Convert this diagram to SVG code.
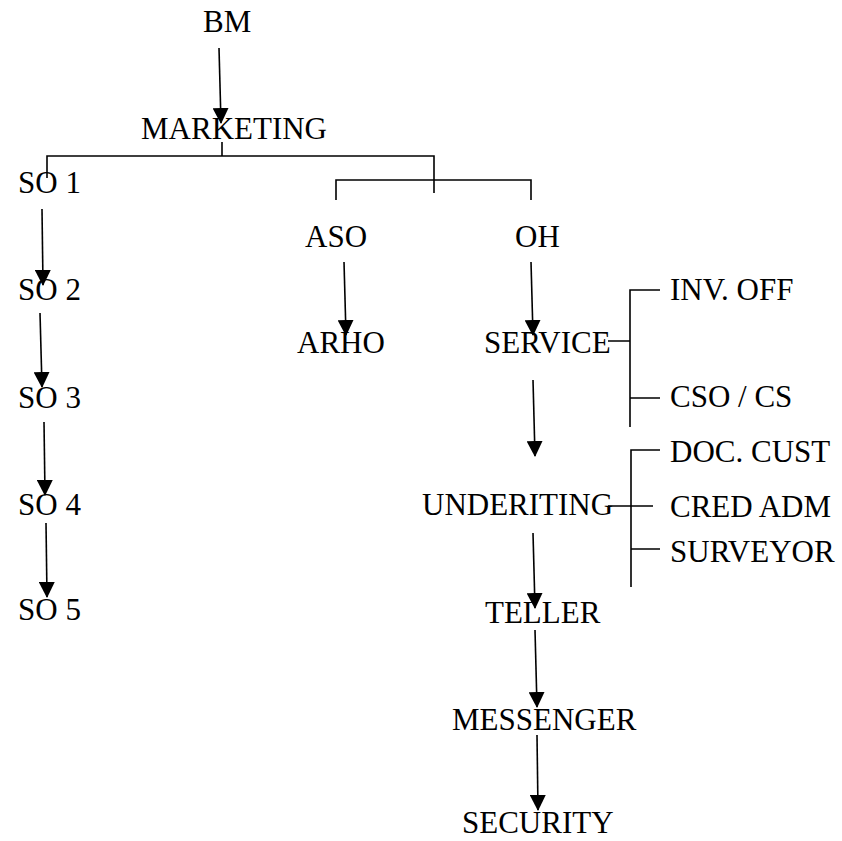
<svg xmlns="http://www.w3.org/2000/svg" width="842" height="841" viewBox="0 0 842 841">
<defs>
<style>
text{font-family:"Liberation Serif","Times New Roman",serif;font-size:31px;fill:#000}
.c line,.c path{stroke:#000;stroke-width:1.6;fill:none}
</style>
<marker id="ah" markerUnits="userSpaceOnUse" markerWidth="16" markerHeight="16" viewBox="0 0 16 16" refX="15" refY="8" orient="auto">
<path d="M0,0 L16,8 L0,16 Z" fill="#000"/>
</marker>
</defs>
<rect width="842" height="841" fill="#fff"/>
<g class="c" id="connectors">
<line x1="219" y1="48" x2="221" y2="123" marker-end="url(#ah)"/>
<path d="M222,142 V156 M47,178 V156 H434 V193"/>
<path d="M336,200 V180 H531 V200"/>
<line x1="42" y1="209" x2="43" y2="285" marker-end="url(#ah)"/>
<line x1="40" y1="313" x2="42" y2="387" marker-end="url(#ah)"/>
<line x1="44" y1="422" x2="45" y2="495" marker-end="url(#ah)"/>
<line x1="46" y1="523" x2="47" y2="597" marker-end="url(#ah)"/>
<line x1="344" y1="262" x2="346" y2="335" marker-end="url(#ah)"/>
<line x1="531" y1="262" x2="533" y2="335" marker-end="url(#ah)"/>
<path d="M608,341 H630 M660,290 H630 V427 M630,398 H660"/>
<line x1="533" y1="380" x2="535" y2="456" marker-end="url(#ah)"/>
<path d="M608,506 H653 M660,450 H631 V587 M631,549 H660"/>
<line x1="533" y1="533" x2="535" y2="608" marker-end="url(#ah)"/>
<line x1="535" y1="630" x2="537" y2="707" marker-end="url(#ah)"/>
<line x1="537" y1="735" x2="538" y2="810" marker-end="url(#ah)"/>
</g>
<g id="bm"><text x="203" y="32">BM</text></g>
<g id="marketing"><text x="141" y="139">MARKETING</text></g>
<g id="so1"><text x="18" y="193">SO 1</text></g>
<g id="so2"><text x="18" y="300">SO 2</text></g>
<g id="so3"><text x="18" y="408">SO 3</text></g>
<g id="so4"><text x="18" y="515">SO 4</text></g>
<g id="so5"><text x="18" y="620">SO 5</text></g>
<g id="aso"><text x="305" y="247">ASO</text></g>
<g id="oh"><text x="515" y="247">OH</text></g>
<g id="arho"><text x="297" y="353">ARHO</text></g>
<g id="service"><text x="484" y="353">SERVICE</text></g>
<g id="invoff"><text x="670" y="300">INV. OFF</text></g>
<g id="csocs"><text x="670" y="407">CSO / CS</text></g>
<g id="doccust"><text x="670" y="462">DOC. CUST</text></g>
<g id="credadm"><text x="670" y="517">CRED ADM</text></g>
<g id="surveyor"><text x="670" y="562">SURVEYOR</text></g>
<g id="underiting"><text x="422" y="515">UNDERITING</text></g>
<g id="teller"><text x="485" y="623">TELLER</text></g>
<g id="messenger"><text x="452" y="730">MESSENGER</text></g>
<g id="security"><text x="462" y="833">SECURITY</text></g>
</svg>
